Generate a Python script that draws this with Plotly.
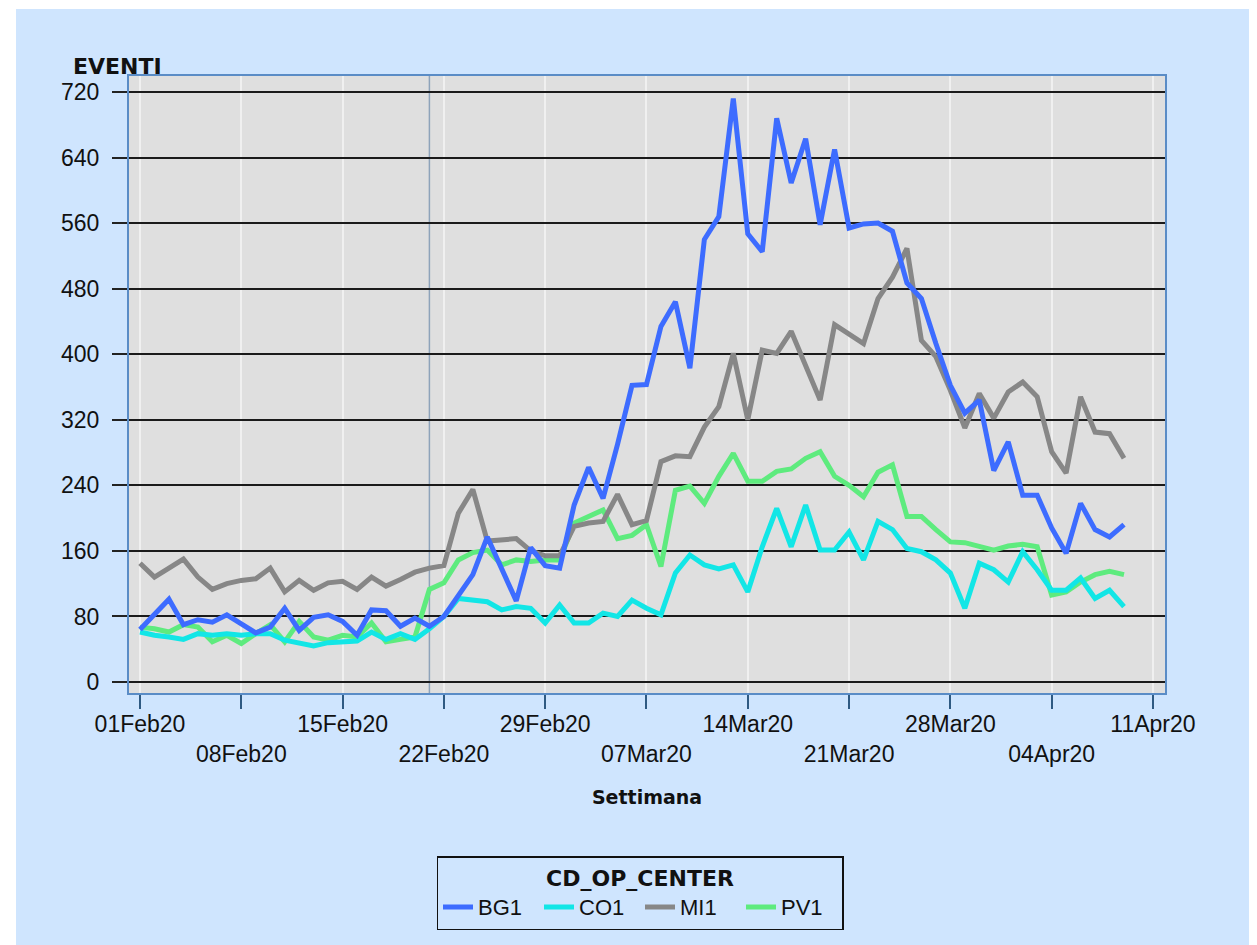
import pandas as pd
import plotly.graph_objects as go

# ---- data ----
start_date = "2020-02-01"
n_days = 69
dates = pd.date_range(start_date, periods=n_days, freq="D")

series_names = ["BG1", "CO1", "MI1", "PV1"]

bg1 = [64, 82, 101, 70, 76, 73, 82, 71, 60, 67, 90, 63, 79, 82, 74, 57, 88, 87, 68, 78,
       68, 80, 106, 131, 177, 139, 99, 164, 142, 139, 216, 262, 224, 290, 362, 363, 434, 464,
       383, 540, 568, 712, 547, 525, 688, 609, 663, 558, 650, 554, 559, 560, 550, 487, 468,
       413, 362, 328, 344, 258, 293, 228, 228, 188, 157, 218, 186, 177, 192]
co1 = [61, 57, 55, 52, 59, 57, 59, 57, 59, 59, 51, 48, 44, 48, 49, 50, 61, 52, 59, 52,
       65, 80, 102, 100, 98, 88, 92, 90, 72, 94, 72, 72, 84, 80, 100, 90, 82, 133,
       155, 143, 138, 143, 110, 165, 212, 165, 216, 161, 161, 183, 149, 196, 186, 163, 159,
       149, 133, 90, 145, 137, 122, 159, 137, 112, 112, 127, 102, 112, 92]
mi1 = [145, 128, 139, 150, 128, 113, 120, 124, 126, 139, 110, 124, 112, 121, 123, 113, 128, 117, 125, 134,
       139, 142, 206, 235, 172, 173, 175, 160, 154, 154, 190, 194, 196, 229, 192, 197, 269, 276,
       275, 311, 336, 401, 320, 405, 401, 428, 387, 344, 436, 424, 413, 468, 494, 529, 417,
       397, 356, 310, 352, 322, 354, 366, 348, 281, 255, 348, 305, 303, 273]
pv1 = [67, 65, 61, 70, 67, 49, 57, 47, 59, 70, 49, 74, 55, 51, 57, 55, 72, 49, 52, 55,
       113, 121, 149, 158, 161, 143, 149, 147, 149, 149, 194, 202, 210, 175, 179, 192, 141, 234,
       239, 218, 251, 279, 245, 245, 257, 260, 273, 281, 251, 240, 226, 256, 265, 202, 202,
       186, 171, 170, 166, 161, 166, 168, 165, 106, 110, 122, 131, 135, 131]

values = {"BG1": bg1, "CO1": co1, "MI1": mi1, "PV1": pv1}
colors = {"BG1": "#3d6cff", "CO1": "#12e6e6", "MI1": "#878787", "PV1": "#5eeb7e"}

x_tick_vals = pd.date_range("2020-02-01", "2020-04-11", freq="7D")
x_tick_text = ["01Feb20", "08Feb20", "15Feb20", "22Feb20", "29Feb20", "07Mar20",
               "14Mar20", "21Mar20", "28Mar20", "04Apr20", "11Apr20"]
y_tick_vals = list(range(0, 721, 80))
ref_date = "2020-02-21"

# staggered labels (second row for every other tick)
tick_text_staggered = [t if i % 2 == 0 else "<br>" + t for i, t in enumerate(x_tick_text)]

fig = go.Figure()
draw_order = ["PV1", "MI1", "CO1", "BG1"]
for name in draw_order:
    fig.add_trace(go.Scatter(
        x=dates, y=values[name], mode="lines", name=name,
        line=dict(color=colors[name], width=5),
        legendrank={"BG1": 1, "CO1": 2, "MI1": 3, "PV1": 4}[name],
    ))

# page offset of the figure div (default body margin)
OFF = 8
W, H = 1257, 945
L, T = 129 - OFF, 76 - OFF
pw, ph = 1036, 617
R, B = W - L - pw, H - T - ph

def px_x(px):  # page pixel -> paper coordinate
    return (px - OFF - L) / pw

def px_y(py):
    return (T + ph - (py - OFF)) / ph

fig.update_layout(
    width=W, height=H,
    margin=dict(l=L, r=R, t=T, b=B),
    paper_bgcolor="#cfe5fe",
    plot_bgcolor="#dfdfdf",
    showlegend=True,
    font=dict(family="Liberation Sans, Arial, sans-serif", size=23, color="#111111"),
    legend=dict(
        orientation="h", x=px_x(640), xanchor="center", y=px_y(856), yanchor="top",
        bordercolor="#111111", borderwidth=1.5, bgcolor="rgba(0,0,0,0)",
        title=dict(text="<b>CD_OP_CENTER</b>", side="top center",
                   font=dict(family="DejaVu Sans", size=22)),
        font=dict(family="Liberation Sans, Arial, sans-serif", size=22),
        entrywidth=56, entrywidthmode="pixels", tracegroupgap=0,
    ),
    xaxis=dict(
        range=["2020-01-31 05:45", "2020-04-11 20:00"],
        tickvals=x_tick_vals, ticktext=tick_text_staggered,
        ticks="outside", ticklen=14, tickwidth=2, tickcolor="#2f5a82",
        ticklabelstandoff=-5,
        showgrid=True, gridcolor="#f0f0f0", gridwidth=2,
        showline=True, linecolor="#5a8cc6", linewidth=2, mirror=True,
        zeroline=False,
        tickfont=dict(size=23),
        title=dict(text="<b>Settimana</b>", standoff=25,
                   font=dict(family="DejaVu Sans", size=19)),
    ),
    yaxis=dict(
        range=[-13.4, 739.5],
        tickvals=y_tick_vals,
        ticks="outside", ticklen=15, tickwidth=2, tickcolor="#222222",
        ticklabelstandoff=8,
        showgrid=True, gridcolor="#1a1a1a", gridwidth=2,
        showline=True, linecolor="#5a8cc6", linewidth=2, mirror=True,
        zeroline=False,
        tickfont=dict(size=23),
    ),
    annotations=[
        dict(text="<b>EVENTI</b>", xref="paper", yref="paper", x=px_x(117), y=px_y(66),
             xanchor="center", yanchor="middle", showarrow=False,
             font=dict(family="DejaVu Sans", size=22, color="#111111")),
    ],
    shapes=[
        dict(type="line", xref="x", yref="paper", x0=ref_date, x1=ref_date, y0=0, y1=1,
             line=dict(color="#8ea3ba", width=1.5), layer="between"),
        dict(type="rect", xref="paper", yref="paper", x0=px_x(0), x1=px_x(16),
             y0=px_y(H + 20), y1=px_y(0), fillcolor="white", line=dict(width=0)),
        dict(type="rect", xref="paper", yref="paper", x0=px_x(0), x1=px_x(W + 20),
             y0=px_y(9), y1=px_y(0), fillcolor="white", line=dict(width=0)),
    ],
)

fig.write_html("out.html")
